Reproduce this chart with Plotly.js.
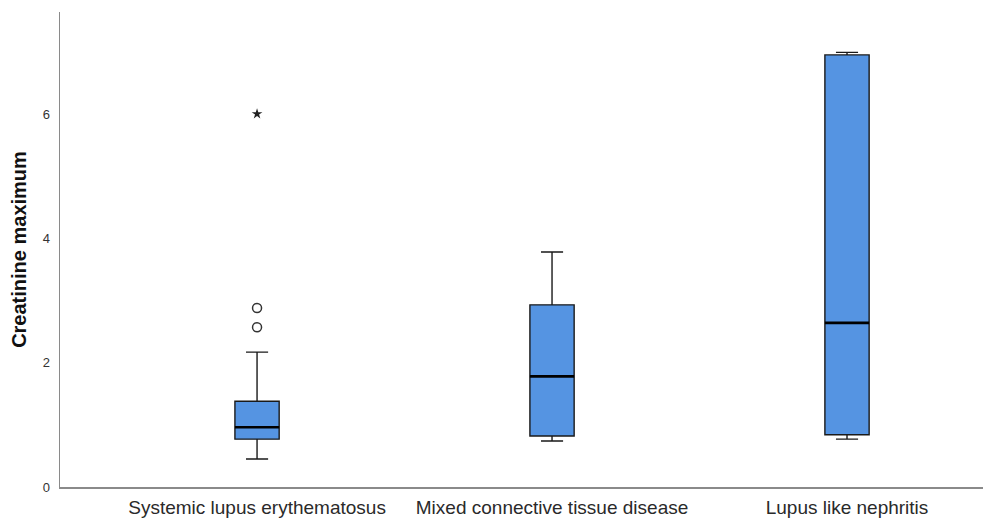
<!DOCTYPE html>
<html>
<head>
<meta charset="utf-8">
<script src="https://cdn.plot.ly/plotly-3.0.1.min.js"></script>
<style>html,body{margin:0;padding:0;background:#fff;}#chart{width:983px;height:521px;}</style>
</head>
<body>
<div id="chart"></div>
<script>
var categories = ["Systemic lupus erythematosus", "Mixed connective tissue disease", "Lupus like nephritis"];
var lowerWhisker = [0.45, 0.74, 0.77];
var q1Values = [0.77, 0.82, 0.84];
var medianValues = [0.96, 1.78, 2.64];
var q3Values = [1.38, 2.93, 6.95];
var upperWhisker = [2.17, 3.78, 6.99];
var outlierCat = [0, 0];
var outlierValues = [2.57, 2.88];
var extremeCat = [0];
var extremeValues = [6.0];
var yTicks = [0, 2, 4, 6];

var positions = categories.map(function(c, i){ return i; });
var boxHalf = 0.075;

var traces = [{
  type: "box",
  x: positions,
  q1: q1Values,
  median: medianValues,
  q3: q3Values,
  lowerfence: lowerWhisker,
  upperfence: upperWhisker,
  fillcolor: "#5594e2",
  line: {color: "#1a1a1a", width: 1.4},
  width: boxHalf * 2,
  whiskerwidth: 0.5,
  boxpoints: false,
  hoverinfo: "skip",
  showlegend: false
}];

// thicker median lines
positions.forEach(function(p, i){
  traces.push({
    type: "scatter", mode: "lines",
    x: [p - boxHalf, p + boxHalf],
    y: [medianValues[i], medianValues[i]],
    line: {color: "#000", width: 2.6},
    hoverinfo: "skip", showlegend: false
  });
});

traces.push({
  type: "scatter", mode: "markers",
  x: outlierCat, y: outlierValues,
  marker: {symbol: "circle-open", size: 9, color: "#333", line: {width: 1.5, color: "#333"}},
  showlegend: false, hoverinfo: "skip"
});
traces.push({
  type: "scatter", mode: "markers",
  x: extremeCat, y: extremeValues,
  marker: {symbol: "star", size: 8, color: "#222", line: {width: 0}},
  showlegend: false, hoverinfo: "skip"
});

var layout = {
  width: 983, height: 521,
  margin: {l: 60, r: 0, t: 12, b: 34, pad: 0},
  paper_bgcolor: "#fff", plot_bgcolor: "#fff",
  font: {family: "Liberation Sans, Arial, sans-serif", color: "#222"},
  xaxis: {
    range: [-0.668, 2.461],
    tickvals: positions, ticktext: categories,
    tickfont: {size: 19, color: "#2a2a2a"},
    showgrid: false, zeroline: false,
    showline: true, linecolor: "#8a8a8a", linewidth: 1.5,
    ticks: "", ticklen: 0, ticklabelstandoff: 3, fixedrange: true
  },
  yaxis: {
    range: [0, 7.64],
    tickvals: yTicks, ticktext: yTicks.map(String),
    tickfont: {size: 13, color: "#333"},
    showgrid: false, zeroline: false,
    showline: true, linecolor: "#8a8a8a", linewidth: 1.5,
    ticks: "", ticklabelstandoff: 6,
    title: {text: "<b>Creatinine maximum</b>", font: {size: 20, color: "#111"}, standoff: 10},
    fixedrange: true
  }
};

Plotly.newPlot("chart", traces, layout, {displayModeBar: false, staticPlot: true});
</script>
</body>
</html>
